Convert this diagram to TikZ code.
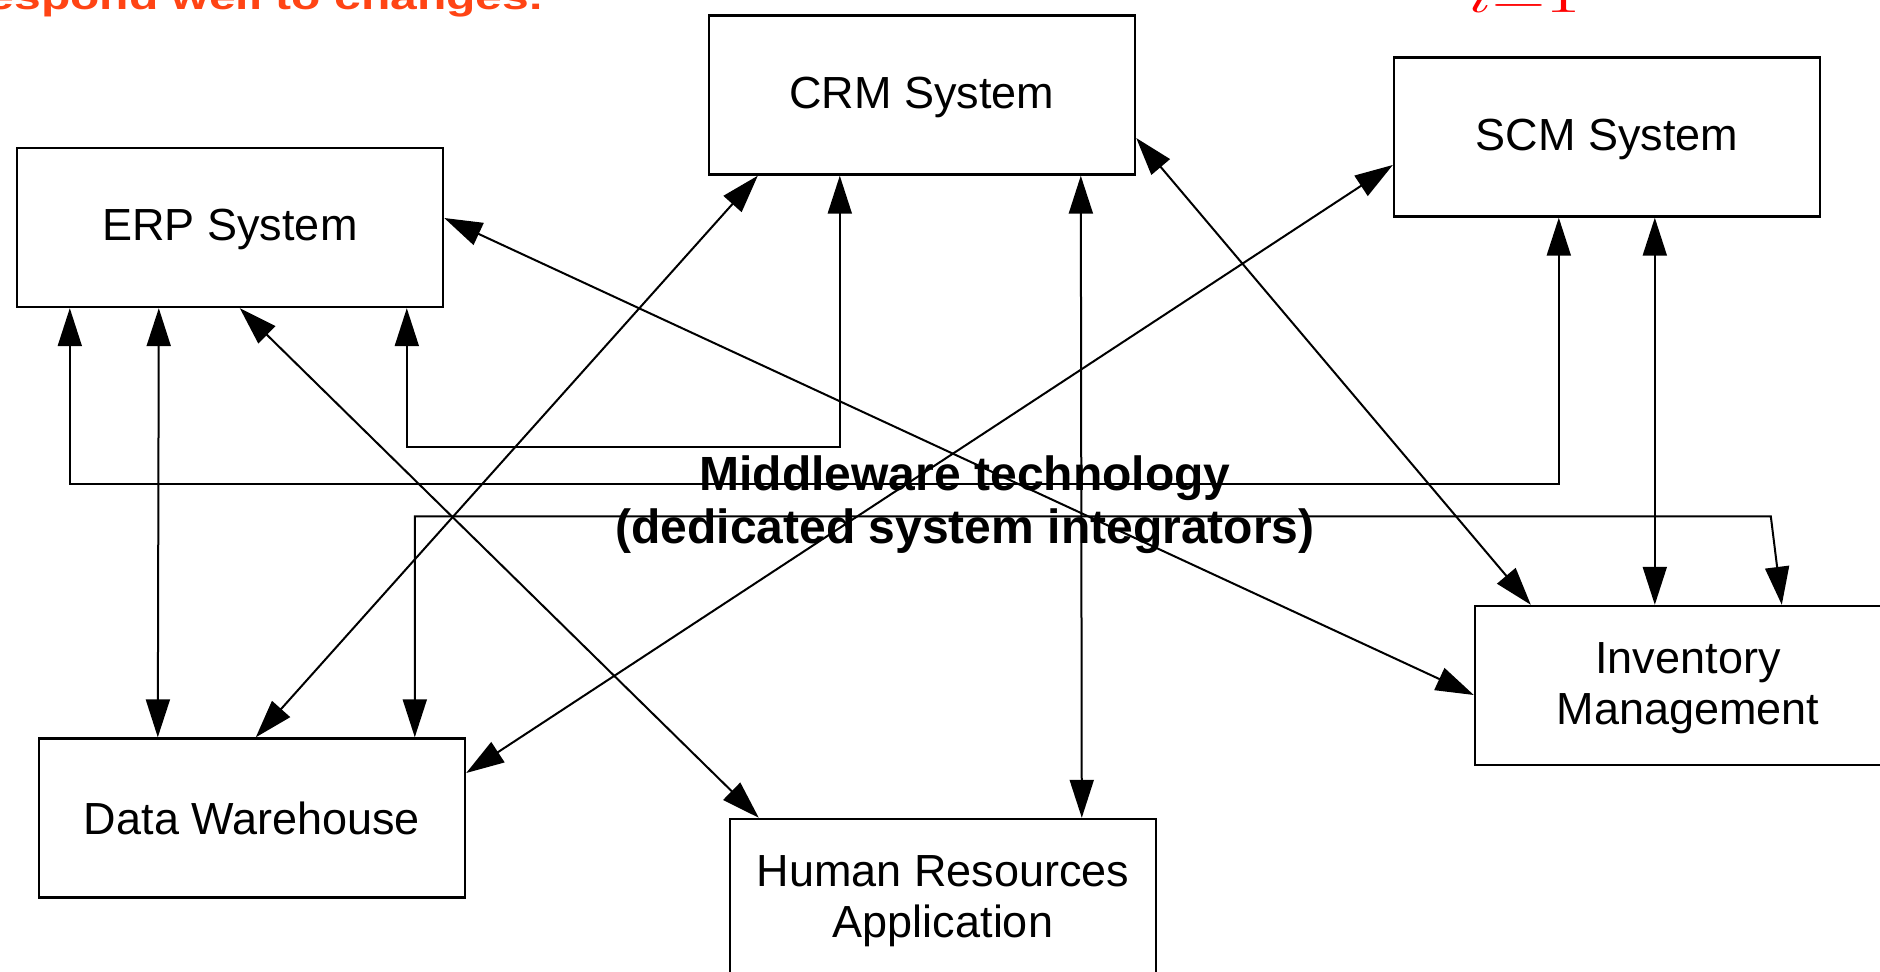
\documentclass[tikz,border=0pt]{standalone}
\usepackage{fontspec}
\setmainfont{Liberation Sans}
\usetikzlibrary{arrows.meta,calc}
\definecolor{redorange}{RGB}{255,68,20}
\definecolor{mathred}{RGB}{255,0,0}
\begin{document}
\begin{tikzpicture}[x=0.5pt,y=-0.5pt,
  box/.style={draw,line width=1.2pt,minimum width=213pt,minimum height=79.5pt,inner sep=0pt,align=center,font=\fontsize{22.5pt}{25.5pt}\selectfont},
  desc/.style={text depth=2.25pt},
  link/.style={line width=1pt,<->},
  >={Triangle[length=19pt,width=12pt]}]
\useasboundingbox (0,0) rectangle (1880,972);
\clip (0,0) rectangle (1880,972);
% boxes
\node[box,desc] (crm) at (922,95) {CRM System};
\node[box,desc] (scm) at (1607,137) {SCM System};
\node[box,desc] (erp) at (230,227.5) {ERP System};
\node[box] (dw) at (252,818) {Data Warehouse};
\node[box,desc] (hr) at (943,898.5) {Human Resources\\Application};
\node[box,desc] (inv) at (1688,685.5) {Inventory\\Management};
% connectors
\draw[link] ($(erp.east)+(0,-9.5)$) -- ($(inv.west)+(0,9.5)$);
\draw[link] ($(erp.south west)+(224,0)$) -- ($(hr.north west)+(30,0)$);
\draw[link] ($(erp.south west)+(143,0)$) -- ($(dw.north west)+(120,0)$);
\draw[link] ($(erp.south west)+(54,0)$) -- ++(0,176) -| ($(scm.south west)+(166,0)$);
\draw[link] ($(erp.south west)+(391,0)$) -- ++(0,139) -| ($(crm.south west)+(132,0)$);
\draw[link] ($(crm.south west)+(50,0)$) -- ($(dw.north west)+(218,0)$);
\draw[link] ($(crm.south west)+(373,0)$) -- ($(hr.north west)+(353,0)$);
\draw[link] ($(crm.east)+(0,43)$) -- ($(inv.north west)+(57,0)$);
\draw[link] ($(scm.west)+(0,28)$) -- ($(dw.east)+(0,-45)$);
\draw[link] ($(scm.south west)+(262,0)$) -- ($(inv.north west)+(181,0)$);
\draw[link] ($(dw.north west)+(377,0)$) -- ++(0,-221) -- ++(1356,0) -- ($(inv.north west)+(308,0)$);
% texts
\node[font=\bfseries\fontsize{24pt}{26.5pt}\selectfont,align=center] (mw) at (965,505) {Middleware technology\\(dedicated system integrators)};
\node[anchor=base east,text=redorange,inner sep=0pt,font=\bfseries\fontsize{24pt}{28pt}\selectfont] (note) at (543,10) {\scalebox{1}[0.75]{espond well to changes.}};
\node[anchor=base,text=mathred,inner sep=0pt,font=\fontsize{10pt}{12pt}\selectfont] (idx) at (1524,13) {\scalebox{3.5}[2.3]{$i{=}1$}};
\end{tikzpicture}
\end{document}
